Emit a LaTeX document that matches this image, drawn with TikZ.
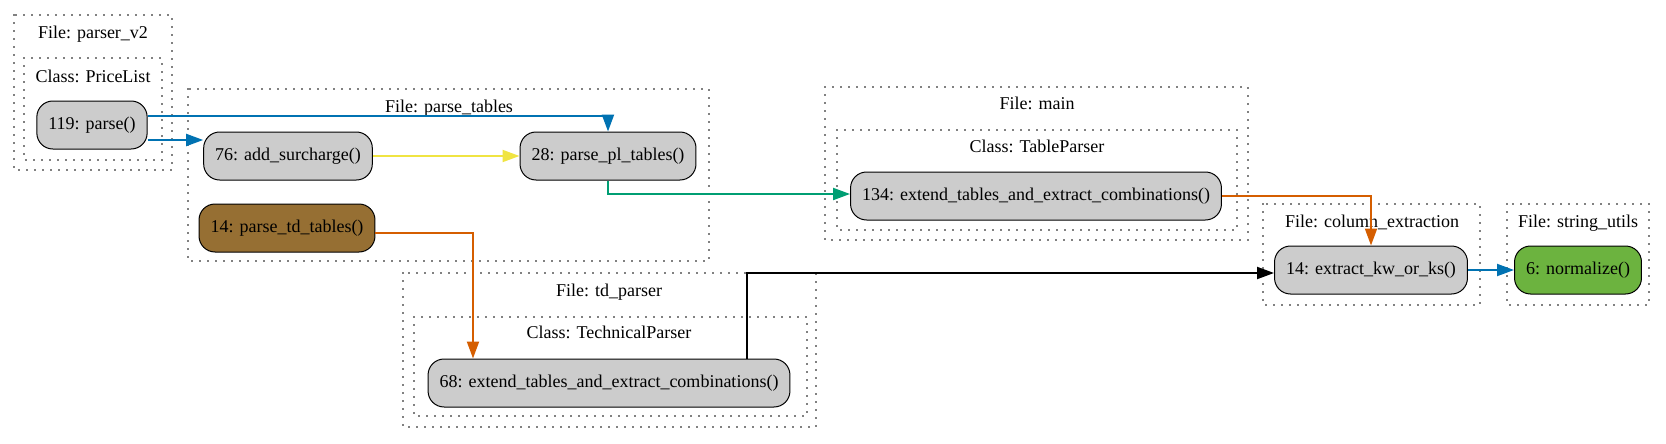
\documentclass[tikz,border=0pt]{standalone}
\usepackage{fontspec}
\setmainfont{Liberation Serif}
\usepackage{tikz}
\usetikzlibrary{arrows.meta}
\definecolor{cgrey}{HTML}{CCCCCC}
\definecolor{cbrown}{HTML}{966F33}
\definecolor{cleaf}{HTML}{6CB33F}
\definecolor{cblue}{HTML}{0072B2}
\definecolor{cyellow}{HTML}{F0E442}
\definecolor{cgreen}{HTML}{009E73}
\definecolor{corange}{HTML}{D55E00}

\begin{document}
\begin{tikzpicture}[x=1pt, y=-1pt,
  func/.style={draw=black, line width=1pt, fill=cgrey, rounded corners=16pt,
    minimum height=48pt, inner xsep=11.5pt, font=\fontsize{18}{20}\selectfont},
  cluster/.style={draw=black, line width=1.6pt, line cap=round, dash pattern=on 0pt off 8pt},
  cluslabel/.style={anchor=base, inner sep=0pt, font=\fontsize{18}{20}\selectfont},
  call/.style={line width=2pt, -{Triangle[length=17pt,width=12pt]}}]
 \useasboundingbox (0,0) rectangle (1666,444);

 \draw[cluster] (14,15) rectangle (172,170);
 \draw[cluster] (24,58) rectangle (162,160);
 \draw[cluster] (188,89) rectangle (709,261);
 \draw[cluster] (825,87) rectangle (1248,240);
 \draw[cluster] (837,130) rectangle (1237,230);
 \draw[cluster] (403,273) rectangle (816,427);
 \draw[cluster] (414,317) rectangle (807,416);
 \draw[cluster] (1263,204) rectangle (1480,305);
 \draw[cluster] (1507,204) rectangle (1649,305);

 \node[cluslabel, name=fileparserv] at (93,39) {File: parser\_v2};
 \node[cluslabel, name=classpricelist] at (93,82) {Class: PriceList};
 \node[cluslabel, name=fileparsetables] at (449,113) {File: parse\_tables};
 \node[cluslabel, name=filemain] at (1037,110) {File: main};
 \node[cluslabel, name=classtableparser] at (1037,152) {Class: TableParser};
 \node[cluslabel, name=filetdparser] at (609,296) {File: td\_parser};
 \node[cluslabel, name=classtechparser] at (609,338) {Class: TechnicalParser};
 \node[cluslabel, name=filecolumn] at (1372,227) {File: column\_extraction};
 \node[cluslabel, name=filestring] at (1578,227) {File: string\_utils};

 \node[func, name=parse] at (92,125) {119: parse()};
 \node[func, name=addsur] at (288,156) {76: add\_surcharge()};
 \node[func, name=parsepl] at (608,156) {28: parse\_pl\_tables()};
 \node[func, name=parsetd, fill=cbrown] at (287,228) {14: parse\_td\_tables()};
 \node[func, name=extmain] at (1036,196) {134: extend\_tables\_and\_extract\_combinations()};
 \node[func, name=exttd] at (609,383) {68: extend\_tables\_and\_extract\_combinations()};
 \node[func, name=extkw] at (1371,270) {14: extract\_kw\_or\_ks()};
 \node[func, name=norm, fill=cleaf] at (1578,270) {6: normalize()};

 \draw[call, cblue] ([yshift=-15pt]parse.east) -- ([yshift=-15pt]parse.east -| addsur.west);
 \draw[call, cblue] ([yshift=9pt]parse.east) -| (parsepl.north);
 \draw[call, cyellow] (addsur.east) -- (parsepl.west);
 \draw[call, cgreen] (parsepl.south) |- ([yshift=2pt]extmain.west);
 \draw[call, corange] (extmain.east) -| (extkw.north);
 \draw[call, corange] ([yshift=-5pt]parsetd.east) -| ([xshift=-136pt]exttd.north);
 \draw[call, black] ([xshift=138pt]exttd.north) |- ([yshift=-3pt]extkw.west);
 \draw[call, cblue] (extkw.east) -- (norm.west);
\end{tikzpicture}
\end{document}
